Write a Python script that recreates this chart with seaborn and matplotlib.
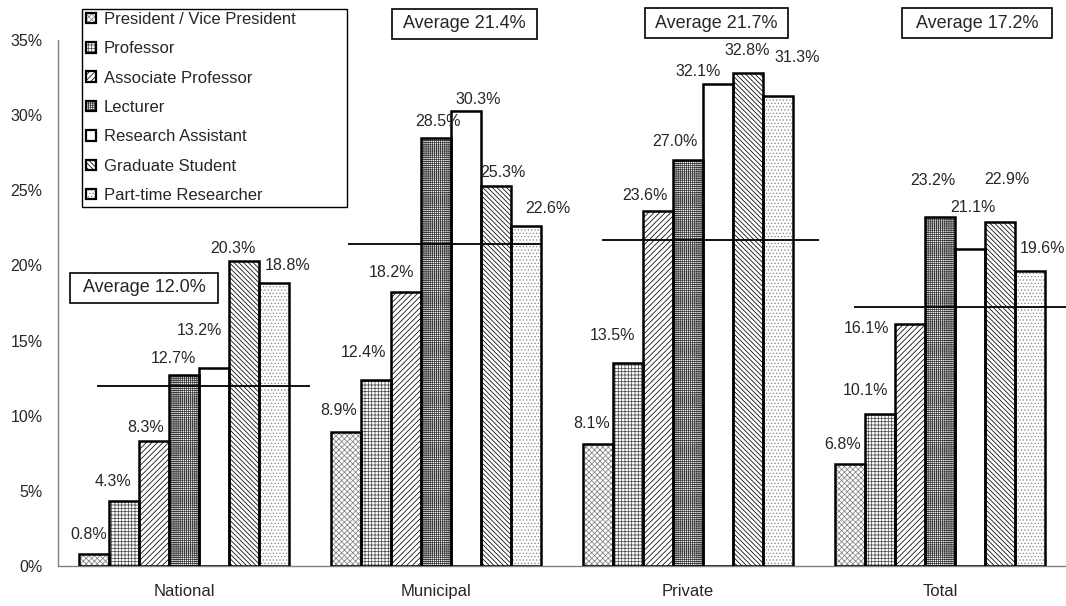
import matplotlib
matplotlib.use("Agg")
import matplotlib.pyplot as plt
from matplotlib.patches import Patch, Rectangle
from matplotlib.ticker import FixedLocator
import numpy as np
import pandas as pd
import seaborn as sns

# ---- data -------------------------------------------------------------
institutions = ["National", "Municipal", "Private", "Total"]
positions = [
    "President / Vice President",
    "Professor",
    "Associate Professor",
    "Lecturer",
    "Research Assistant",
    "Graduate Student",
    "Part-time Researcher",
]
president = [0.8, 8.9, 8.1, 6.8]
professor = [4.3, 12.4, 13.5, 10.1]
associate_professor = [8.3, 18.2, 23.6, 16.1]
lecturer = [12.7, 28.5, 27.0, 23.2]
research_assistant = [13.2, 30.3, 32.1, 21.1]
graduate_student = [20.3, 25.3, 32.8, 22.9]
part_time = [18.8, 22.6, 31.3, 19.6]
averages = [12.0, 21.4, 21.7, 17.2]
y_ticks = [0, 5, 10, 15, 20, 25, 30, 35]

series = [president, professor, associate_professor, lecturer,
          research_assistant, graduate_student, part_time]

# ---- styling ------------------------------------------------------------
W, H = 1066, 606
sns.set_style("white")
plt.rcParams["font.family"] = ["Liberation Sans", "DejaVu Sans"]
plt.rcParams["hatch.linewidth"] = 0.55

hatches = ["xxxxxx", "+++++", "//////", "++++++++", "",
           "\\\\\\\\\\\\\\", "....."]
hatch_colors = ["#808080", "#505050", "black", "#383838", "black", "black", "#8a8a8a"]
outline_lw = 1.8

# label offsets from each bar top (dx, dy in pixels), per institution
label_offsets = [
    [(-5, 19), (-11, 20), (-8, 14), (-11, 17), (-15, 37), (-11, 12), (14, 18)],
    [(-7, 22), (-13, 27), (-15, 20), (2, 16), (12, 11), (7, 13), (22, 18)],
    [(-6, 21), (-16, 28), (-13, 16), (-13, 19), (-20, 12), (-1, 23), (19, 38)],
    [(-7, 19), (-15, 24), (-44, -4), (-7, 37), (3, 41), (7, 42), (13, 23)],
]
# average line extent relative to group centre
avg_line_start = [-0.345, -0.35, -0.34, -0.34]
avg_line_end = [0.5, 0.42, 0.52, 0.5]
# average text boxes (pixel boxes: left, top, right, bottom)
avg_boxes = [(70, 273, 218, 303), (392, 9, 537, 39), (645, 8, 788, 38), (902, 8, 1052, 38)]


def fx(x):
    return x / W


def fy(y):
    return 1 - y / H


df = pd.DataFrame(
    [(inst, pos, vals[i]) for pos, vals in zip(positions, series)
     for i, inst in enumerate(institutions)],
    columns=["institution", "position", "value"],
)

fig = plt.figure(figsize=(W / 100, H / 100), dpi=100)
ax = fig.add_axes([fx(58), 1 - 566 / H, (W - 58) / W, 566 / H])

sns.barplot(
    data=df, x="institution", y="value", hue="position",
    order=institutions, hue_order=positions,
    palette={p: "white" for p in positions},
    width=0.833, errorbar=None, legend=False, ax=ax,
    linewidth=0, saturation=1,
)

# hatch fill + black outline for every bar
for k, cont in enumerate(ax.containers):
    for j, bar in enumerate(cont):
        bar.set_hatch(hatches[k])
        bar.set_edgecolor(hatch_colors[k])
        bar.set_linewidth(0)
        ax.add_patch(Rectangle(bar.get_xy(), bar.get_width(), bar.get_height(),
                               fill=False, edgecolor="black", linewidth=outline_lw,
                               zorder=3, joinstyle="miter"))
        # value label
        v = bar.get_height()
        dx, dy = label_offsets[j][k]
        ax.annotate(f"{v:.1f}%", (bar.get_x() + bar.get_width() / 2, v),
                    xytext=(dx * 0.72, dy * 0.72), textcoords="offset points",
                    ha="center", va="center", fontsize=11.5, zorder=6,
                    annotation_clip=False)

# average lines
for i, avg in enumerate(averages):
    ax.plot([i + avg_line_start[i], i + avg_line_end[i]], [avg, avg],
            color="black", lw=1.3, zorder=5, clip_on=False,
            solid_capstyle="butt")

# axes formatting
ax.set_ylim(0, 566 / 15.03)
ax.set_xlim(-0.5, 3.5)
ax.set_xlabel("")
ax.set_ylabel("")
ax.set_yticks(y_ticks)
ax.set_yticklabels([f"{t}%" for t in y_ticks])
ax.tick_params(axis="y", direction="in", length=4.5, width=1, color="#808080",
               labelsize=11.5, pad=11)
ax.tick_params(axis="x", which="major", length=0, labelsize=12, pad=13)
ax.xaxis.set_minor_locator(FixedLocator([0.5, 1.5, 2.5]))
ax.tick_params(axis="x", which="minor", direction="in", length=4.5, width=1,
               color="#808080")
for side in ("top", "right"):
    ax.spines[side].set_visible(False)
for side in ("left", "bottom"):
    ax.spines[side].set_color("#808080")
    ax.spines[side].set_linewidth(1)
ax.spines["left"].set_bounds(0, 35)
ax.grid(False)

# average boxes
for (x0, y0, x1, y1), avg in zip(avg_boxes, averages):
    fig.patches.append(Rectangle((fx(x0), fy(y1)), fx(x1) - fx(x0), fy(y0) - fy(y1),
                                 transform=fig.transFigure, facecolor="white",
                                 edgecolor="black", linewidth=1.2, zorder=7))
    fig.text(fx((x0 + x1) / 2), fy((y0 + y1) / 2), f"Average {avg:.1f}%",
             ha="center", va="center", fontsize=13, zorder=8)

# legend with its own frame
fig.patches.append(Rectangle((fx(82), fy(207)), fx(347) - fx(82), fy(9) - fy(207),
                             transform=fig.transFigure, facecolor="white",
                             edgecolor="black", linewidth=1.0, zorder=7))
handles = [
    (Patch(facecolor="white", edgecolor=c, hatch=h, linewidth=0),
     Patch(facecolor="none", edgecolor="black", linewidth=1.6))
    for h, c in zip(hatches, hatch_colors)
]
leg = fig.legend(handles, positions, loc="upper left",
                 bbox_to_anchor=(fx(86), fy(12)), bbox_transform=fig.transFigure,
                 frameon=False, borderpad=0, borderaxespad=0,
                 handlelength=0.6, handleheight=0.6, handletextpad=0.45,
                 labelspacing=0.86, fontsize=12)
leg.set_zorder(9)

fig.savefig("out.png", dpi=100)
